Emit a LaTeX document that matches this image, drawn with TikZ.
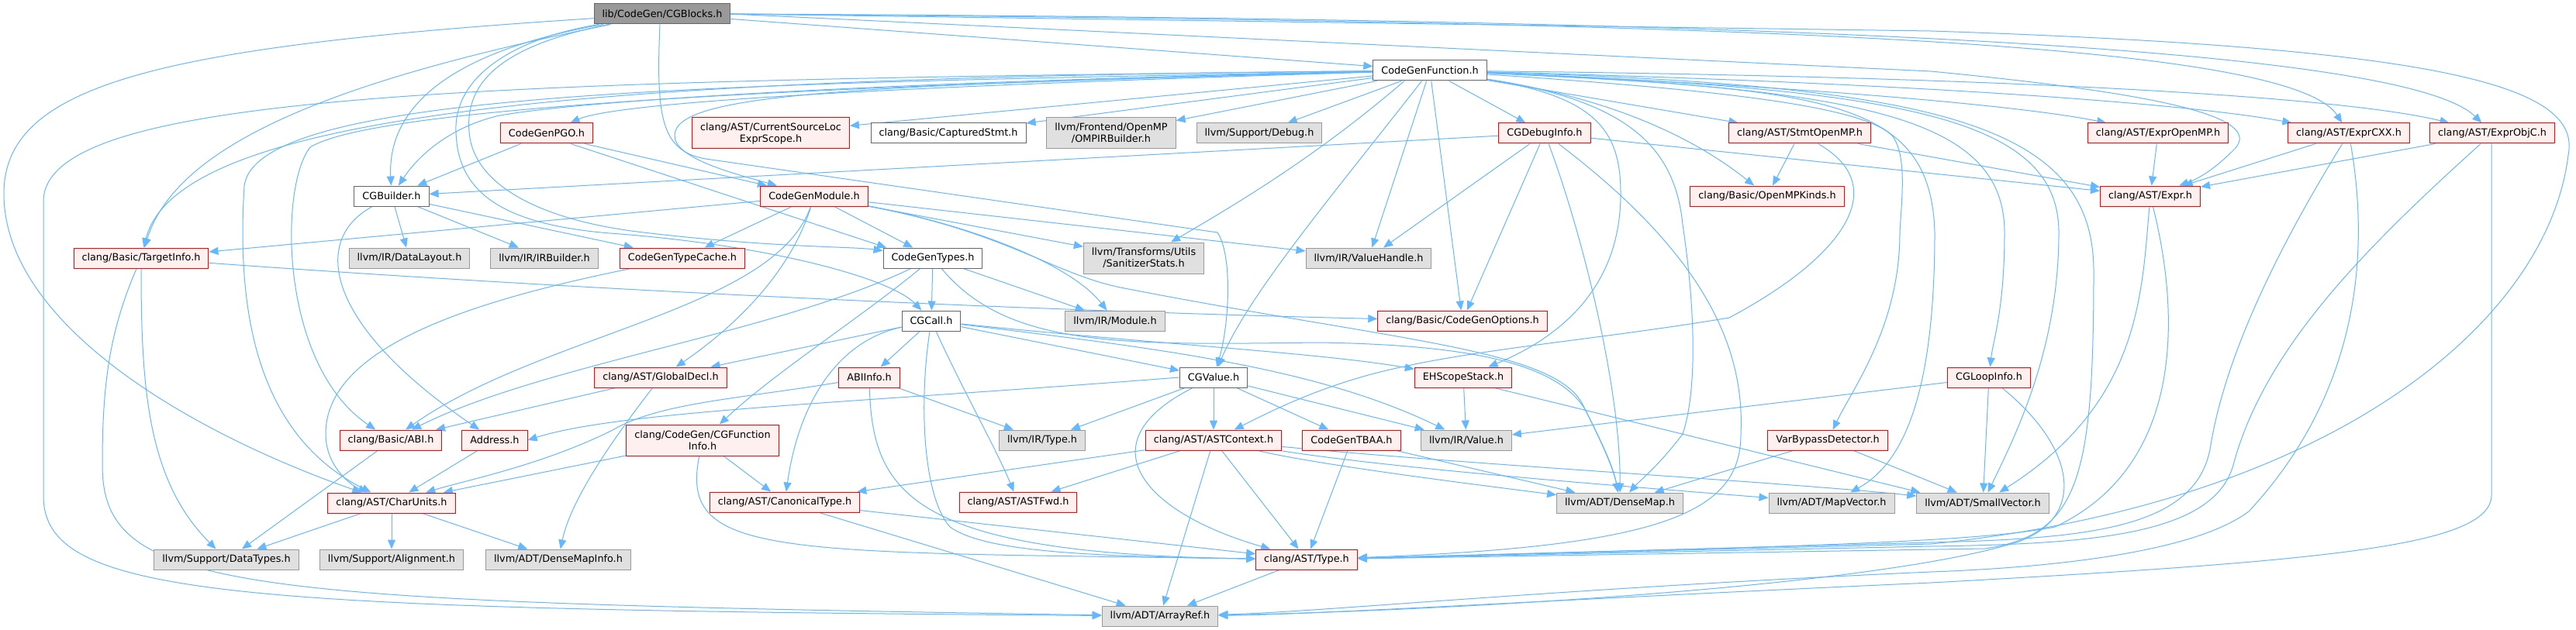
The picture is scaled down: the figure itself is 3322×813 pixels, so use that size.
\documentclass[tikz,border=0pt]{standalone}
\usepackage{fontspec}
\setmainfont{DejaVu Sans}
\usetikzlibrary{arrows.meta}
\definecolor{edgec}{HTML}{63B8FF}
\definecolor{redfill}{HTML}{FFF0F0}
\definecolor{grayfill}{HTML}{E0E0E0}
\definecolor{grayline}{HTML}{999999}
\definecolor{darkline}{HTML}{666666}
\definecolor{rootfill}{HTML}{999999}
\definecolor{redline}{HTML}{FF0000}
\pgfdeclarelayer{edges}
\pgfsetlayers{edges,main}
\begin{document}
\begin{tikzpicture}[x=1pt,y=-1pt,
 nbase/.style={draw, line width=1pt, rectangle, inner xsep=10.5pt, inner ysep=2pt, minimum height=26pt, align=center, font=\fontsize{12.8}{15}\selectfont, text=black},
 nred/.style={nbase, draw=redline, fill=redfill},
 ngray/.style={nbase, draw=grayline, fill=grayfill},
 nwhite/.style={nbase, draw=darkline, fill=white},
 nroot/.style={nbase, draw=darkline, fill=rootfill},
 ntwo/.style={minimum height=40pt},
 dep/.style={draw=edgec, line width=1pt, -{Triangle[length=12pt,width=10pt]}}]
\useasboundingbox (0,0) rectangle (3322,813);
% nodes
\node[nroot] (root) at (854,18) {lib/CodeGen/CGBlocks.h};
\node[nwhite] (CGF) at (1844,91) {CodeGenFunction.h};
\node[nred] (PGO) at (705,172) {CodeGenPGO.h};
\node[nred,ntwo] (CSL) at (994,172) {clang/AST/CurrentSourceLoc\\ExprScope.h};
\node[nwhite] (CAP) at (1223,172) {clang/Basic/CapturedStmt.h};
\node[ngray,ntwo] (OMP) at (1433,172) {llvm/Frontend/OpenMP\\/OMPIRBuilder.h};
\node[ngray] (DBG) at (1624,172) {llvm/Support/Debug.h};
\node[nred] (CDI) at (1992,172) {CGDebugInfo.h};
\node[nred] (SOM) at (2321,172) {clang/AST/StmtOpenMP.h};
\node[nred] (EOM) at (2783,172) {clang/AST/ExprOpenMP.h};
\node[nred] (ECX) at (3029,172) {clang/AST/ExprCXX.h};
\node[nred] (EOC) at (3214,172) {clang/AST/ExprObjC.h};
\node[nwhite] (CGBu) at (505,253) {CGBuilder.h};
\node[nred] (CGM) at (1050,253) {CodeGenModule.h};
\node[nred] (OMK) at (2279,253) {clang/Basic/OpenMPKinds.h};
\node[nred] (EXP) at (2773,253) {clang/AST/Expr.h};
\node[nred] (TI) at (182,333) {clang/Basic/TargetInfo.h};
\node[ngray] (DL) at (528,333) {llvm/IR/DataLayout.h};
\node[ngray] (IRB) at (702,333) {llvm/IR/IRBuilder.h};
\node[nred] (TC) at (880,333) {CodeGenTypeCache.h};
\node[nwhite] (CGT) at (1203,333) {CodeGenTypes.h};
\node[ngray,ntwo] (SS) at (1475,333) {llvm/Transforms/Utils\\/SanitizerStats.h};
\node[ngray] (VH) at (1765,333) {llvm/IR/ValueHandle.h};
\node[nwhite] (CALL) at (1201,414) {CGCall.h};
\node[ngray] (MOD) at (1438,414) {llvm/IR/Module.h};
\node[nred] (CGO) at (1886,414) {clang/Basic/CodeGenOptions.h};
\node[nred] (GD) at (852,487) {clang/AST/GlobalDecl.h};
\node[nred] (ABII) at (1121,487) {ABIInfo.h};
\node[nwhite] (CGV) at (1565,487) {CGValue.h};
\node[nred] (EHS) at (1887,487) {EHScopeStack.h};
\node[nred] (LOOP) at (2565,487) {CGLoopInfo.h};
\node[nred] (ABI) at (504,568) {clang/Basic/ABI.h};
\node[nred] (ADDR) at (638,568) {Address.h};
\node[nred,ntwo] (CFI) at (906,568) {clang/CodeGen/CGFunction\\Info.h};
\node[ngray] (IRT) at (1344,568) {llvm/IR/Type.h};
\node[nred] (ASTC) at (1565,568) {clang/AST/ASTContext.h};
\node[nred] (TBAA) at (1743,568) {CodeGenTBAA.h};
\node[ngray] (VAL) at (1891,568) {llvm/IR/Value.h};
\node[nred] (VBD) at (2357,568) {VarBypassDetector.h};
\node[nred] (CU) at (505,649) {clang/AST/CharUnits.h};
\node[nred] (CT) at (1012,648) {clang/AST/CanonicalType.h};
\node[nred] (FWD) at (1313,648) {clang/AST/ASTFwd.h};
\node[ngray] (DM) at (2089,649) {llvm/ADT/DenseMap.h};
\node[ngray] (MV) at (2362,649) {llvm/ADT/MapVector.h};
\node[ngray] (SV) at (2557,649) {llvm/ADT/SmallVector.h};
\node[ngray] (DT) at (292,722) {llvm/Support/DataTypes.h};
\node[ngray] (AL) at (505,722) {llvm/Support/Alignment.h};
\node[ngray] (DMI) at (720,722) {llvm/ADT/DenseMapInfo.h};
\node[nred] (TY) at (1685,722) {clang/AST/Type.h};
\node[ngray] (AR) at (1496,795) {llvm/ADT/ArrayRef.h};

\begin{pgfonlayer}{edges}
\fill[white] (0,0) rectangle (3322,813);
% root
\draw[dep] (root) .. controls (200,60) and (5,110) .. (5,250) .. controls (5,420) and (250,560) .. (CU);
\draw[dep] (root) .. controls (450,100) and (230,180) .. (TI);
\draw[dep] (root) .. controls (560,70) and (500,150) .. (CGBu);
\draw[dep] (root) .. controls (640,60) and (600,110) .. (605,170) .. controls (610,240) and (700,285) .. (830,300) .. controls (1000,320) and (1100,318) .. (CGT);
\draw[dep] (root) .. controls (660,50) and (585,100) .. (588,170) .. controls (590,250) and (650,292) .. (800,302) .. controls (1000,318) and (1150,360) .. (CALL);
\draw[dep] ([xshift=-3pt]root.south) .. controls (846,150) and (852,195) .. (910,205) -- (1570,300) .. controls (1590,330) and (1585,420) .. (CGV);
\draw[dep] (root) -- (CGF);
\draw[dep] (root.east) .. controls (2200,28) and (2950,50) .. (ECX);
\draw[dep] (root.east) .. controls (2300,24) and (3100,60) .. (EOC);
\draw[dep] (root.east) -- (2490,40) .. controls (3150,62) and (3330,110) .. (3312,200) .. controls (3285,420) and (3000,650) .. (2490,702) -- (TY);
\draw[dep] (root.east) -- (2490,92) .. controls (2780,120) and (2920,150) .. (2882,192) .. controls (2862,212) and (2842,228) .. (EXP);
% CodeGenFunction
\draw[dep] (CGF) .. controls (1200,110) and (800,130) .. (PGO);
\draw[dep] (CGF) -- (CSL);
\draw[dep] (CGF) -- (CAP);
\draw[dep] (CGF) -- (OMP);
\draw[dep] (CGF) -- (DBG);
\draw[dep] (CGF) .. controls (1200,104) and (750,128) .. (640,150) .. controls (580,165) and (540,200) .. (CGBu);
\draw[dep] (CGF) .. controls (1100,110) and (870,120) .. (870,175) .. controls (870,205) and (950,225) .. (CGM);
\draw[dep] (CGF) .. controls (800,100) and (230,140) .. (TI);
\draw[dep] (CGF) .. controls (900,108) and (330,118) .. (315,240) .. controls (305,400) and (330,560) .. (CU);
\draw[dep] (CGF) .. controls (1000,112) and (480,140) .. (400,190) .. controls (360,240) and (360,470) .. (ABI);
\draw[dep] (CGF) .. controls (600,104) and (56,120) .. (56,260) -- (56,640) .. controls (56,772) and (300,786) .. (AR);
\draw[dep] (CGF) -- (VH);
\draw[dep] ([xshift=-33pt]CGF.south) .. controls (1700,200) and (1600,260) .. (SS);
\draw[dep] (CGF) -- (CGO);
\draw[dep] (CGF) -- (CDI);
\draw[dep] (CGF) -- (SOM);
\draw[dep] (CGF) .. controls (2100,130) and (2200,190) .. (OMK);
\draw[dep] (CGF) .. controls (2300,110) and (2600,135) .. (EOM);
\draw[dep] (CGF) .. controls (2400,105) and (2800,130) .. (ECX);
\draw[dep] (CGF) .. controls (2500,98) and (3000,120) .. (EOC);
\draw[dep] (CGF) .. controls (1720,250) and (1610,380) .. (CGV);
\draw[dep] (CGF) .. controls (2060,125) and (2090,170) .. (2090,250) .. controls (2090,380) and (2000,440) .. (EHS);
\draw[dep] (CGF) .. controls (2100,130) and (2160,190) .. (2170,290) .. controls (2185,390) and (2190,500) .. (2170,560) .. controls (2140,600) and (2115,620) .. (DM);
\draw[dep] (CGF) .. controls (2350,115) and (2490,125) .. (2495,300) .. controls (2495,520) and (2450,600) .. (MV);
\draw[dep] (CGF) .. controls (2200,115) and (2400,135) .. (2440,175) .. controls (2460,200) and (2452,260) .. (2450,300) .. controls (2450,420) and (2390,500) .. (VBD);
\draw[dep] (CGF) .. controls (2400,115) and (2585,150) .. (2585,300) .. controls (2585,400) and (2570,440) .. (LOOP);
\draw[dep] (CGF) .. controls (2450,115) and (2655,150) .. (2655,300) .. controls (2655,450) and (2600,560) .. (SV);
\draw[dep] (CGF) .. controls (2500,110) and (2700,160) .. (2700,350) .. controls (2700,620) and (2680,690) .. (2560,708) -- (TY);
% CodeGenPGO
\draw[dep] (PGO) -- (CGBu);
\draw[dep] ([xshift=49pt]PGO.south) -- ([xshift=-61pt]CGM.north);
\draw[dep] ([xshift=31pt]PGO.south) -- ([xshift=-60pt]CGT.north);
% CGBuilder
\draw[dep] (CGBu) .. controls (400,310) and (420,420) .. (ADDR);
\draw[dep] (CGBu) -- (DL);
\draw[dep] (CGBu) -- (IRB);
\draw[dep] (CGBu) -- (TC);
% CodeGenModule
\draw[dep] (CGM) -- (TI);
\draw[dep] (CGM) -- (TC);
\draw[dep] (CGM) .. controls (1020,350) and (950,420) .. (GD);
\draw[dep] (CGM) .. controls (1000,400) and (700,430) .. (ABI);
\draw[dep] (CGM) -- (CGT);
\draw[dep] (CGM) -- (SS);
\draw[dep] (CGM) .. controls (1250,290) and (1380,340) .. (MOD);
\draw[dep] (CGM) -- (VH);
\draw[dep] (CGM) .. controls (1300,300) and (1360,355) .. (1450,372) .. controls (1800,440) and (2000,450) .. (2040,520) .. controls (2065,570) and (2080,600) .. (DM);
% CodeGenTypeCache
\draw[dep] (TC) .. controls (600,390) and (420,450) .. (420,560) .. controls (420,600) and (450,625) .. (CU);
% CodeGenTypes
\draw[dep] (CGT) .. controls (1000,430) and (700,470) .. (ABI);
\draw[dep] (CGT) .. controls (1110,410) and (1000,480) .. (CFI);
\draw[dep] (CGT) -- (CALL);
\draw[dep] (CGT) .. controls (1300,450) and (1450,445) .. (1700,442) .. controls (1900,445) and (2010,470) .. (2045,530) .. controls (2070,580) and (2082,610) .. (DM);
\draw[dep] (CGT) -- (MOD);
% CGCall
\draw[dep] (CALL) -- (GD);
\draw[dep] (CALL) -- (ABII);
\draw[dep] (CALL) .. controls (1080,440) and (1030,520) .. (CT);
\draw[dep] (CALL) .. controls (1185,520) and (1190,640) .. (1225,680) .. controls (1270,712) and (1400,718) .. (TY);
\draw[dep] (CALL) .. controls (1240,500) and (1285,580) .. (FWD);
\draw[dep] (CALL) -- (CGV);
\draw[dep] (CALL) .. controls (1500,445) and (1700,455) .. (EHS);
\draw[dep] (CALL) .. controls (1500,450) and (1700,475) .. (VAL);
% ABIInfo
\draw[dep] (ABII) .. controls (950,515) and (850,520) .. (790,555) .. controls (700,600) and (600,620) .. (CU);
\draw[dep] (ABII) -- (IRT);
\draw[dep] (ABII) .. controls (1125,640) and (1180,715) .. (TY);
% CGValue
\draw[dep] (CGV.west) .. controls (1100,520) and (800,530) .. (ADDR.east);
\draw[dep] (CGV) -- (IRT);
\draw[dep] (CGV) -- (ASTC);
\draw[dep] (CGV) .. controls (1400,570) and (1470,660) .. (TY);
\draw[dep] (CGV) -- (TBAA);
\draw[dep] (CGV) -- (VAL);
% CGDebugInfo
\draw[dep] (CDI) -- (CGBu);
\draw[dep] (CDI) -- (VH);
\draw[dep] (CDI) -- (CGO);
\draw[dep] (CDI) .. controls (2040,300) and (2090,500) .. (DM);
\draw[dep] (CDI) .. controls (2200,330) and (2250,450) .. (2245,560) .. controls (2245,660) and (2150,705) .. (TY);
\draw[dep] (CDI) -- (EXP);
% StmtOpenMP
\draw[dep] (SOM) -- (OMK);
\draw[dep] (SOM) -- (EXP);
\draw[dep] (SOM) .. controls (2440,240) and (2380,330) .. (2230,410) .. controls (2050,440) and (1900,450) .. (1780,480) .. controls (1700,500) and (1640,530) .. (ASTC);
% Expr*
\draw[dep] (EOM) -- (EXP);
\draw[dep] (ECX) -- (EXP);
\draw[dep] (ECX) .. controls (2950,300) and (2870,450) .. (2850,580) .. controls (2830,680) and (2700,695) .. (2490,700) -- (TY);
\draw[dep] (ECX) .. controls (3060,350) and (3030,520) .. (2900,660) .. controls (2820,720) and (2600,734) .. (2490,738) .. controls (2000,760) and (1700,790) .. (AR);
\draw[dep] (EOC) -- (EXP);
\draw[dep] (EOC) .. controls (3050,320) and (2920,450) .. (2880,600) .. controls (2855,690) and (2700,702) .. (2490,705) -- (TY);
\draw[dep] ([xshift=-1pt]EOC.south) -- (3213,640) .. controls (3210,705) and (3000,724) .. (2490,752) .. controls (2000,774) and (1700,793) .. (AR);
\draw[dep] (EXP) .. controls (2762,380) and (2760,520) .. (SV);
\draw[dep] (EXP) .. controls (2810,400) and (2820,600) .. (2650,680) .. controls (2550,700) and (2300,706) .. (TY);
% CGLoopInfo
\draw[dep] (LOOP) -- (VAL);
\draw[dep] (LOOP) -- (SV);
\draw[dep] (LOOP) .. controls (2680,580) and (2690,670) .. (2600,700) .. controls (2400,762) and (1800,790) .. (AR);
% ASTContext
\draw[dep] (ASTC) -- (CT);
\draw[dep] (ASTC) -- (FWD);
\draw[dep] (ASTC) -- (AR);
\draw[dep] (ASTC) -- (TY);
\draw[dep] (ASTC) .. controls (1700,600) and (1900,625) .. (DM);
\draw[dep] (ASTC) .. controls (1800,605) and (2100,628) .. (MV);
\draw[dep] (ASTC) .. controls (1900,600) and (2300,622) .. (SV);
% CanonicalType, CGFunctionInfo
\draw[dep] (CT) -- (TY);
\draw[dep] (CT) -- (AR);
\draw[dep] (CFI) -- (CT);
\draw[dep] (CFI) .. controls (875,720) and (1000,712) .. (TY);
\draw[dep] (CFI) -- (CU);
% lower-left
\draw[dep] (ADDR) -- (CU);
\draw[dep] (GD) -- (ABI);
\draw[dep] (GD) .. controls (780,580) and (735,650) .. (DMI);
\draw[dep] ([xshift=-17pt]ABI.south) -- ([xshift=20pt]DT.north);
\draw[dep] (CU) -- (DT);
\draw[dep] (CU) -- (AL);
\draw[dep] (CU) -- (DMI);
\draw[dep] (TI) .. controls (182,500) and (190,620) .. (DT);
\draw[dep] (TI) .. controls (140,430) and (132,500) .. (132,600) .. controls (132,765) and (300,776) .. (AR);
\draw[dep] (TI) .. controls (900,385) and (1500,405) .. (CGO);
% others
\draw[dep] (TBAA) -- (TY);
\draw[dep] (TBAA) -- (DM);
\draw[dep] (EHS) -- (VAL);
\draw[dep] ([xshift=40pt]EHS.south) -- ([xshift=5pt]SV.north west);
\draw[dep] (VBD) -- (DM);
\draw[dep] (VBD) -- (SV);
\draw[dep] (TY) -- (AR);
\end{pgfonlayer}
\end{tikzpicture}
\end{document}
